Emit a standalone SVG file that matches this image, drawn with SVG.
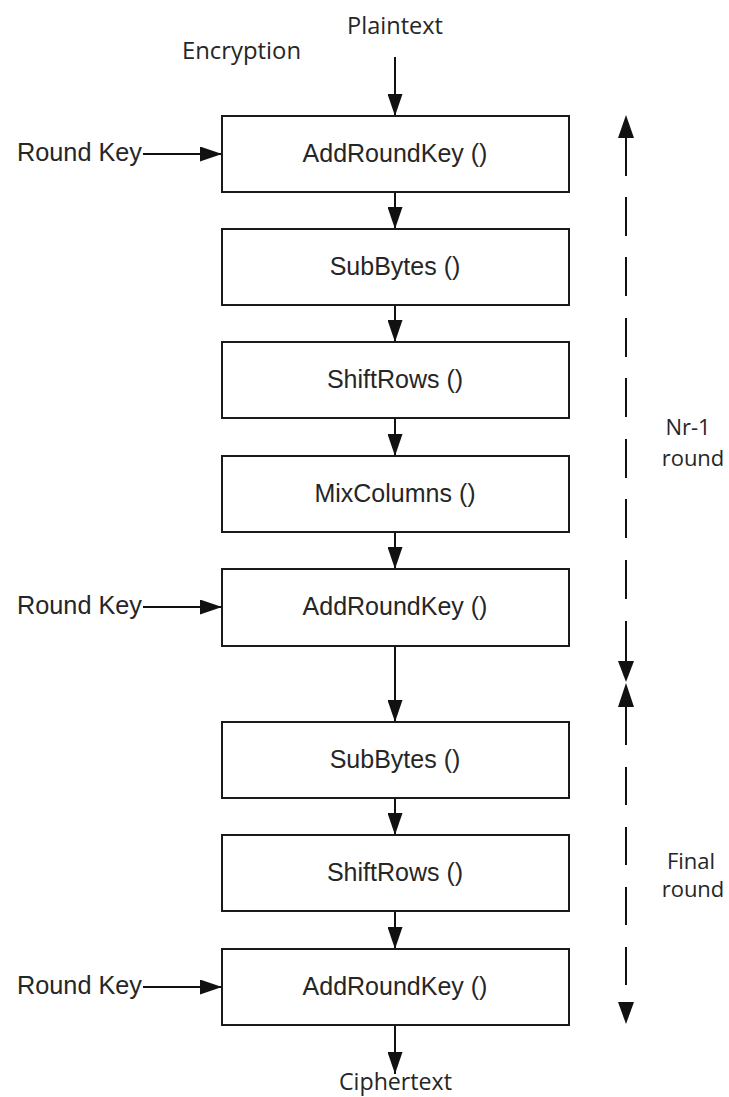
<svg xmlns="http://www.w3.org/2000/svg" width="729" height="1097" viewBox="0 0 729 1097">
  <style>
    .box { fill: #ffffff; stroke: #1a1a1a; stroke-width: 2; }
    .fn { font-family: "Liberation Sans", Arial, sans-serif; font-size: 25px; fill: #262626; text-anchor: middle; }
    .key { font-family: "Liberation Sans", Arial, sans-serif; font-size: 25px; fill: #262626; }
    .lbl { font-family: "Open Sans", "Liberation Sans", sans-serif; font-size: 23px; fill: #262626; }
    .side { font-family: "Open Sans", "Liberation Sans", sans-serif; font-size: 22px; fill: #262626; text-anchor: middle; }
    .flow { stroke: #111111; stroke-width: 2; fill: none; marker-end: url(#head); }
    .dash { stroke: #111111; stroke-width: 2; fill: none; }
    .tip { fill: #111111; }
  </style>
  <defs>
    <marker id="head" markerUnits="userSpaceOnUse" markerWidth="23" markerHeight="15" refX="22" refY="7.5" orient="auto">
      <path d="M0,0 L22,7.5 L0,15 Z" fill="#111111"/>
    </marker>
  </defs>

  <rect width="729" height="1097" fill="#ffffff"/>

  <!-- headings -->
  <g id="titles">
    <text class="lbl" x="182" y="59" textLength="119" lengthAdjust="spacingAndGlyphs">Encryption</text>
    <text class="lbl" x="347" y="34" textLength="96" lengthAdjust="spacingAndGlyphs">Plaintext</text>
    <text class="lbl" x="339" y="1090" font-size="22" textLength="113" lengthAdjust="spacingAndGlyphs">Ciphertext</text>
  </g>

  <!-- connectors -->
  <g id="connectors">
    <line class="flow" x1="395" y1="57" x2="395" y2="116"/>
    <line class="flow" x1="395" y1="192" x2="395" y2="229"/>
    <line class="flow" x1="395" y1="305" x2="395" y2="342"/>
    <line class="flow" x1="395" y1="418" x2="395" y2="456"/>
    <line class="flow" x1="395" y1="532" x2="395" y2="569"/>
    <line class="flow" x1="395" y1="646" x2="395" y2="722"/>
    <line class="flow" x1="395" y1="798" x2="395" y2="835"/>
    <line class="flow" x1="395" y1="911" x2="395" y2="949"/>
    <line class="flow" x1="395" y1="1025" x2="395" y2="1074"/>
    <line class="flow" x1="143" y1="154" x2="222" y2="154"/>
    <line class="flow" x1="143" y1="607" x2="222" y2="607"/>
    <line class="flow" x1="143" y1="987" x2="222" y2="987"/>
  </g>

  <!-- round span markers -->
  <g id="round-spans">
    <polygon class="tip" points="626,115 634,138 618,138"/>
    <path class="dash" d="M626 137V176 M626 197V236 M626 257V296 M626 318V357 M626 378V417 M626 439V478 M626 499V538 M626 560V599 M626 621V662"/>
    <polygon class="tip" points="618,661 634,661 626,682"/>
    <polygon class="tip" points="626,683 634,707 618,707"/>
    <path class="dash" d="M626 706V745 M626 767V805 M626 827V865 M626 887V925 M626 947V985"/>
    <polygon class="tip" points="618,1002 634,1002 626,1024"/>
    <text class="side" x="688" y="435">Nr-1</text>
    <text class="side" x="693" y="466">round</text>
    <text class="side" x="691" y="869">Final</text>
    <text class="side" x="693" y="897">round</text>
  </g>

  <!-- round key inputs -->
  <g id="round-keys">
    <text class="key" x="17" y="161" textLength="125" lengthAdjust="spacingAndGlyphs">Round Key</text>
    <text class="key" x="17" y="614" textLength="125" lengthAdjust="spacingAndGlyphs">Round Key</text>
    <text class="key" x="17" y="994" textLength="125" lengthAdjust="spacingAndGlyphs">Round Key</text>
  </g>

  <!-- transformation steps -->
  <g id="add-round-key-1">
    <rect class="box" x="222" y="116" width="347" height="76"/>
    <text class="fn" x="395" y="162">AddRoundKey ()</text>
  </g>
  <g id="sub-bytes-1">
    <rect class="box" x="222" y="229" width="347" height="76"/>
    <text class="fn" x="395" y="275">SubBytes ()</text>
  </g>
  <g id="shift-rows-1">
    <rect class="box" x="222" y="342" width="347" height="76"/>
    <text class="fn" x="395" y="388">ShiftRows ()</text>
  </g>
  <g id="mix-columns">
    <rect class="box" x="222" y="456" width="347" height="76"/>
    <text class="fn" x="395" y="502">MixColumns ()</text>
  </g>
  <g id="add-round-key-2">
    <rect class="box" x="222" y="569" width="347" height="77"/>
    <text class="fn" x="395" y="615">AddRoundKey ()</text>
  </g>
  <g id="sub-bytes-2">
    <rect class="box" x="222" y="722" width="347" height="76"/>
    <text class="fn" x="395" y="768">SubBytes ()</text>
  </g>
  <g id="shift-rows-2">
    <rect class="box" x="222" y="835" width="347" height="76"/>
    <text class="fn" x="395" y="881">ShiftRows ()</text>
  </g>
  <g id="add-round-key-3">
    <rect class="box" x="222" y="949" width="347" height="76"/>
    <text class="fn" x="395" y="995">AddRoundKey ()</text>
  </g>
</svg>
